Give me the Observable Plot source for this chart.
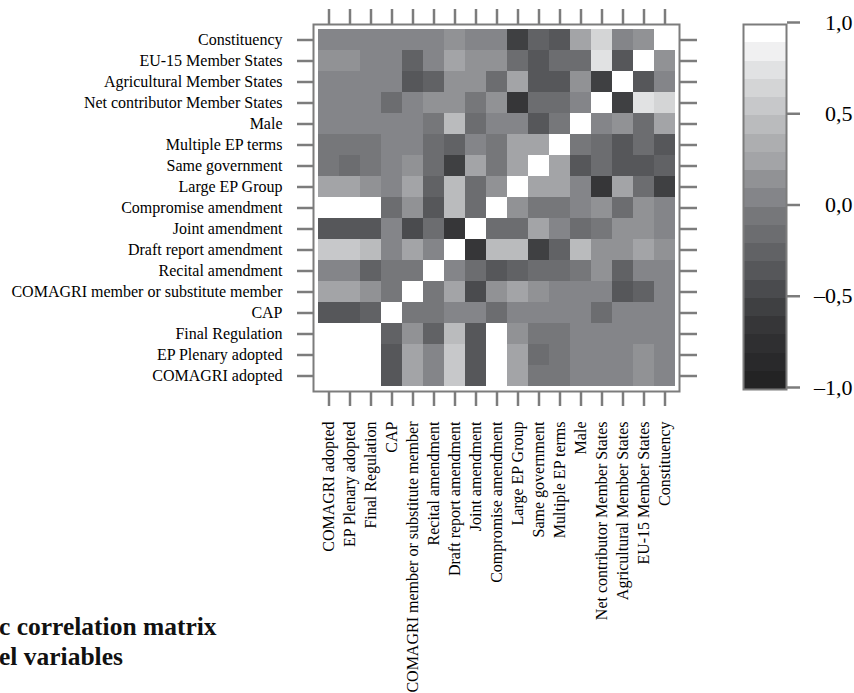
<!DOCTYPE html>
<html>
<head>
<meta charset="utf-8">
<script src="https://cdn.jsdelivr.net/npm/d3@7"></script>
<script src="https://cdn.jsdelivr.net/npm/@observablehq/plot@0.6"></script>
<style>
  html, body { margin: 0; padding: 0; background: white; }
  #wrap { position: relative; width: 854px; height: 693px; overflow: hidden; background: white; font-family: "Liberation Serif", "Times New Roman", serif; }
  #main { position: absolute; left: 0; top: 0; }
  #legend { position: absolute; left: 700px; top: 0; }
  #title { position: absolute; left: -1px; top: 612px; font-family: "Liberation Serif", "Times New Roman", serif; font-weight: bold; font-size: 25.5px; line-height: 30px; color: #111; white-space: nowrap; z-index: 5; }
  svg { max-width: none !important; }
</style>
</head>
<body>
<div id="wrap">
  <div id="main"></div>
  <div id="legend"></div>
  <div id="title">c correlation matrix<br>el variables</div>
</div>
<script>
// Variables in column order (left to right); rows are shown in reverse order (top = Constituency)
const variables = [
  "COMAGRI adopted",
  "EP Plenary adopted",
  "Final Regulation",
  "CAP",
  "COMAGRI member or substitute member",
  "Recital amendment",
  "Draft report amendment",
  "Joint amendment",
  "Compromise amendment",
  "Large EP Group",
  "Same government",
  "Multiple EP terms",
  "Male",
  "Net contributor Member States",
  "Agricultural Member States",
  "EU-15 Member States",
  "Constituency"
];

// Lower triangle of the correlation matrix: corrLower[a][b] = corr(variables[a], variables[b]), b < a
const corrLower = [
  [],
  [1],
  [1, 1],
  [-0.35, -0.35, -0.25],
  [0.25, 0.25, 0.15, -0.05],
  [0.05, 0.05, -0.25, -0.05, -0.05],
  [0.55, 0.55, 0.45, 0.05, 0.25, 0.05],
  [-0.35, -0.35, -0.35, 0.05, -0.45, -0.15, -0.65],
  [1, 1, 1, -0.15, 0.15, -0.35, 0.45, -0.15],
  [0.25, 0.25, 0.15, 0.05, 0.25, -0.25, 0.45, -0.15, 0.15],
  [-0.05, -0.15, -0.05, 0.05, 0.15, -0.15, -0.55, 0.25, -0.05, 0.25],
  [-0.05, -0.05, -0.05, 0.05, 0.05, -0.15, -0.25, 0.05, -0.05, 0.25, 0.25],
  [0.05, 0.05, 0.05, 0.05, 0.05, -0.05, 0.45, -0.15, 0.05, 0.05, -0.35, -0.05],
  [0.05, 0.05, 0.05, -0.15, 0.05, 0.15, 0.15, -0.05, 0.15, -0.65, -0.15, -0.15, 0.05],
  [0.05, 0.05, 0.05, 0.05, -0.35, -0.25, 0.15, 0.15, -0.15, 0.25, -0.35, -0.35, 0.15, -0.55],
  [0.15, 0.15, 0.05, 0.05, -0.25, 0.05, 0.25, 0.15, 0.15, -0.15, -0.35, -0.15, -0.15, 0.75, -0.35],
  [0.05, 0.05, 0.05, 0.05, 0.05, 0.05, 0.15, 0.05, 0.05, -0.55, -0.25, -0.35, 0.25, 0.65, 0.05, 0.15]
];

// Colour key breaks (20 bins from -1 to 1) and its grey palette
const legendBreaks = [-1, -0.9, -0.8, -0.7, -0.6, -0.5, -0.4, -0.3, -0.2, -0.1, 0, 0.1, 0.2, 0.3, 0.4, 0.5, 0.6, 0.7, 0.8, 0.9, 1];
const greyPalette = [
  "#232324", "#29292b", "#2f2f31", "#363638", "#3f4042",
  "#4a4b4e", "#56575a", "#616265", "#6c6d70", "#76777a",
  "#848589", "#919295", "#a3a4a7", "#adaeb0", "#babbbd",
  "#c7c8ca", "#d4d5d6", "#e1e2e3", "#f0f0f1", "#ffffff"
];
const legendTicks = [-1, -0.5, 0, 0.5, 1];

// Build full symmetric cell table
const cells = [];
for (let a = 0; a < variables.length; a++) {
  for (let b = 0; b < variables.length; b++) {
    let v;
    if (a === b) v = 1;
    else if (b < a) v = corrLower[a][b];
    else v = corrLower[b][a];
    cells.push({row: variables[a], col: variables[b], value: v});
  }
}

const thresholds = legendBreaks.slice(1, -1);
const colorScale = {type: "threshold", domain: thresholds, range: greyPalette};
const axisGrey = "#7c7c7c";

const main = Plot.plot({
  width: 700,
  height: 693,
  marginLeft: 313,
  marginRight: 21,
  marginTop: 24,
  marginBottom: 302,
  x: {domain: variables, padding: 0, axis: null},
  y: {domain: variables.slice().reverse(), padding: 0, axis: null},
  color: colorScale,
  style: {fontFamily: "'Liberation Serif', serif", fontSize: "16px", color: "black", background: "white"},
  marks: [
    Plot.cell(cells, {x: "col", y: "row", fill: "value", shapeRendering: "crispEdges"}),
    Plot.frame({stroke: axisGrey, strokeWidth: 2}),
    Plot.axisY({anchor: "left", tickSize: 16, tickPadding: 15, stroke: axisGrey, strokeWidth: 2.5, fontSize: 16, label: null}),
    Plot.axisY({anchor: "right", tickSize: 17, tickFormat: () => "", stroke: axisGrey, strokeWidth: 2.5, label: null}),
    Plot.axisX({anchor: "top", tickSize: 16, tickFormat: () => "", stroke: axisGrey, strokeWidth: 2.5, label: null}),
    Plot.axisX({anchor: "bottom", tickSize: 15, tickPadding: 15, tickRotate: -90, stroke: axisGrey, strokeWidth: 2.5, fontSize: 16, label: null})
  ]
});
document.getElementById("main").appendChild(main);

const bins = legendBreaks.slice(0, -1).map((lo, i) => ({lo, hi: legendBreaks[i + 1], mid: (lo + legendBreaks[i + 1]) / 2}));
const fmt = d => d.toFixed(1).replace(".", ",").replace("-", "\u2013");

const legend = Plot.plot({
  width: 154,
  height: 420,
  marginLeft: 43,
  marginRight: 68,
  marginTop: 24,
  marginBottom: 31,
  x: {domain: [0, 1], axis: null},
  y: {domain: [-1, 1], axis: null},
  color: colorScale,
  style: {fontFamily: "'Liberation Serif', serif", fontSize: "22px", color: "black", background: "white"},
  marks: [
    Plot.rect(bins, {x1: 0, x2: 1, y1: "lo", y2: "hi", fill: "mid", shapeRendering: "crispEdges"}),
    Plot.frame({stroke: axisGrey, strokeWidth: 2}),
    Plot.axisY(legendTicks, {anchor: "right", tickSize: 13, tickPadding: 53, textAnchor: "end", dy: -2, tickFormat: fmt, stroke: axisGrey, strokeWidth: 2.5, fontSize: 22, label: null})
  ]
});
document.getElementById("legend").appendChild(legend);
</script>
</body>
</html>
